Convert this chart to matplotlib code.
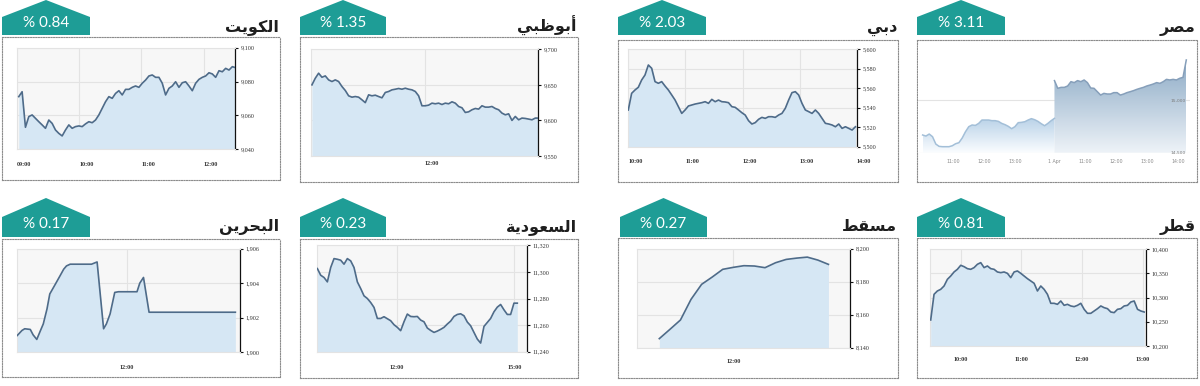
import numpy as np
import matplotlib
matplotlib.use("Agg")
import matplotlib.pyplot as plt
from matplotlib.patches import Polygon
from matplotlib.colors import LinearSegmentedColormap
from matplotlib.ticker import FuncFormatter

plt.rcParams['font.family'] = ['DejaVu Sans']

# ---------------------------------------------------------------- data
titles = ["الكويت", "أبوظبي", "دبي", "مصر", "البحرين", "السعودية", "مسقط", "قطر"]
changes = ["0.84", "1.35", "2.03", "3.11", "0.17", "0.23", "0.27", "0.81"]

kuwait_t0, kuwait_dt = "09:02", 3.21
kuwait_vals = [9071.1, 9074.0, 9053.0, 9059.3, 9060.3, 9058.3, 9056.3, 9054.4, 9052.4, 9057.3,
               9055.3, 9051.4, 9049.4, 9047.9, 9051.4, 9054.4, 9052.4, 9053.4, 9053.8, 9053.4,
               9055.0, 9056.3, 9055.7, 9057.3, 9060.3, 9064.2, 9068.1, 9071.1, 9070.1, 9073.0,
               9074.6, 9072.1, 9075.4, 9075.4, 9076.6, 9077.4, 9076.6, 9079.0, 9080.9, 9083.3,
               9083.9, 9082.5, 9082.5, 9079.0, 9072.1, 9076.0, 9077.4, 9079.9, 9076.6, 9079.3,
               9079.9, 9077.4, 9074.6, 9079.0, 9081.3, 9082.5, 9083.3, 9085.2, 9084.5, 9082.5,
               9086.4, 9085.8, 9087.8, 9086.8, 9088.8, 9088.2]
kuwait_yticks = [9040, 9060, 9080, 9100]
kuwait_xticks = ["09:00", "10:00", "11:00", "12:00"]

abudhabi_t0, abudhabi_dt = "10:01", 3.52
abudhabi_vals = [9650.0, 9659.3, 9666.4, 9660.7, 9662.6, 9657.0, 9654.7, 9657.0, 9654.7, 9647.7,
                 9642.1, 9634.6, 9632.7, 9633.6, 9632.7, 9629.0, 9625.0, 9636.0, 9634.6, 9635.5,
                 9633.6, 9631.8, 9639.3, 9640.7, 9643.0, 9643.9, 9644.9, 9643.9, 9645.3, 9643.9,
                 9643.0, 9640.7, 9634.6, 9620.6, 9620.6, 9621.5, 9624.3, 9623.4, 9624.3, 9622.4,
                 9624.3, 9623.4, 9626.2, 9624.3, 9619.6, 9617.8, 9611.2, 9612.1, 9615.0, 9616.8,
                 9615.9, 9620.6, 9618.7, 9618.7, 9619.6, 9616.8, 9615.0, 9610.3, 9607.9, 9609.3,
                 9600.0, 9605.6, 9600.9, 9603.3, 9602.8, 9601.9, 9600.9, 9603.3, 9603.3]
abudhabi_yticks = [9550, 9600, 9650, 9700]
abudhabi_xticks = ["12:00"]

dubai_t0, dubai_dt = "10:00", 3.51
dubai_vals = [5537.7, 5554.8, 5558.2, 5561.0, 5568.5, 5573.6, 5583.9, 5580.5, 5566.8, 5565.1,
              5566.8, 5562.3, 5558.2, 5553.1, 5547.9, 5541.1, 5534.2, 5537.7, 5541.8, 5542.8,
              5543.8, 5544.5, 5545.2, 5546.2, 5544.5, 5548.6, 5546.2, 5547.9, 5546.2, 5545.9,
              5545.2, 5541.1, 5540.4, 5537.7, 5534.9, 5532.5, 5526.7, 5523.3, 5524.7, 5528.1,
              5530.1, 5529.1, 5530.8, 5530.8, 5530.1, 5532.5, 5534.2, 5539.4, 5547.9, 5555.5,
              5556.5, 5553.1, 5544.5, 5537.7, 5536.0, 5534.2, 5537.7, 5534.2, 5529.1, 5524.0,
              5523.3, 5522.3, 5520.5, 5523.3, 5518.8, 5520.5, 5518.8, 5517.1, 5520.5]
dubai_yticks = [5500, 5520, 5540, 5560, 5580, 5600]
dubai_xticks = ["10:00", "11:00", "12:00", "13:00", "14:00"]

egypt_day1 = [14668, 14658, 14677, 14652, 14582, 14560, 14557, 14557, 14557, 14566,
              14585, 14595, 14639, 14699, 14747, 14763, 14759, 14778, 14810, 14810,
              14810, 14804, 14804, 14797, 14778, 14766, 14750, 14728, 14747, 14785,
              14788, 14794, 14810, 14823, 14813, 14797, 14775, 14756, 14778, 14804, 14826]
egypt_day2 = [15184, 15111, 15120, 15120, 15133, 15174, 15165, 15184, 15174, 15190,
              15165, 15114, 15111, 15079, 15047, 15063, 15057, 15057, 15070, 15070,
              15047, 15057, 15070, 15079, 15089, 15101, 15111, 15120, 15133, 15142,
              15152, 15165, 15158, 15174, 15196, 15190, 15196, 15190, 15206, 15215, 15380]
egypt_open, egypt_close = "10:00", "14:16"
egypt_yticks = [14500, 15000]
egypt_ytick_labels = ["14,500", "15,000"]
egypt_xtick_day = [1, 1, 1, 2, 2, 2, 2, 2]
egypt_xtick_clock = ["11:00", "12:00", "13:00", "10:00", "11:00", "12:00", "13:00", "14:00"]
egypt_xtick_labels = ["11:00", "12:00", "13:00", "1 Apr", "11:00", "12:00", "13:00", "14:00"]

bahrain_times = ["10:02", "10:07", "10:10", "10:16", "10:19", "10:23", "10:27", "10:30", "10:34",
                 "10:37", "10:43", "10:48", "10:52", "10:55", "10:59", "11:22", "11:28", "11:35",
                 "11:38", "11:42", "11:47", "11:51", "12:11", "12:14", "12:18", "12:24", "13:57"]
bahrain_vals = [1900.96, 1901.25, 1901.35, 1901.31, 1901.00, 1900.73, 1901.25, 1901.63, 1902.50,
                1903.37, 1903.94, 1904.42, 1904.81, 1905.00, 1905.10, 1905.10, 1905.23, 1901.35,
                1901.63, 1902.21, 1903.46, 1903.50, 1903.50, 1904.00, 1904.33, 1902.31, 1902.31]
bahrain_yticks = [1900, 1902, 1904, 1906]
bahrain_xticks = ["12:00"]

saudi_t0, saudi_dt = "09:58.6", 5.1
saudi_vals = [11302.5, 11297.5, 11295.8, 11292.5, 11303.3, 11310.0, 11309.5, 11308.8, 11305.8, 11310.0,
              11308.3, 11303.3, 11292.5, 11287.5, 11282.0, 11280.0, 11277.0, 11273.3, 11265.0, 11265.0,
              11266.3, 11264.8, 11263.3, 11260.3, 11258.3, 11255.8, 11262.5, 11268.3, 11266.5, 11266.3,
              11266.5, 11263.8, 11262.5, 11257.8, 11256.0, 11254.5, 11255.5, 11256.8, 11258.3, 11260.8,
              11263.0, 11266.5, 11268.0, 11268.5, 11267.0, 11262.3, 11259.5, 11254.5, 11249.5, 11246.5,
              11259.0, 11262.0, 11265.0, 11270.0, 11273.5, 11275.5, 11271.5, 11268.0, 11268.0, 11276.5,
              11276.5]
saudi_yticks = [11240, 11260, 11280, 11300, 11320]
saudi_xticks = ["12:00", "15:00"]

muscat_t0, muscat_dt = "10:50", 10
muscat_vals = [8145.5, 8151.1, 8156.8, 8169.3, 8178.4, 8182.8, 8187.5, 8188.7, 8189.7,
               8189.5, 8188.5, 8191.5, 8193.5, 8194.3, 8194.9, 8193.1, 8190.5]
muscat_yticks = [8140, 8160, 8180, 8200]
muscat_xticks = ["12:00"]

qatar_t0, qatar_dt = "09:30.3", 3.3
qatar_vals = [10253.8, 10306.9, 10313.8, 10317.2, 10324.1, 10337.9, 10344.8, 10353.1, 10358.6, 10366.9,
              10364.1, 10360.0, 10358.6, 10362.1, 10369.0, 10372.4, 10362.1, 10365.5, 10360.0, 10358.6,
              10353.1, 10351.7, 10353.1, 10350.3, 10341.4, 10353.1, 10355.2, 10350.3, 10344.8, 10339.3,
              10334.5, 10329.7, 10313.8, 10324.1, 10317.2, 10306.9, 10288.3, 10288.3, 10286.2, 10293.1,
              10284.1, 10286.2, 10282.8, 10281.4, 10284.1, 10288.3, 10275.9, 10267.6, 10267.6, 10272.4,
              10277.2, 10282.8, 10279.3, 10277.2, 10270.3, 10269.0, 10275.9, 10277.2, 10282.8, 10284.1,
              10291.0, 10293.1, 10275.9, 10272.4, 10270.3]
qatar_yticks = [10200, 10250, 10300, 10350, 10400]
qatar_xticks = ["10:00", "11:00", "12:00", "13:00"]

# ---------------------------------------------------------------- style
W, H = 1200, 386
TEAL = "#1e9d96"
LINE = "#4e6b89"
FILL = "#d6e7f4"
PLOTBG = "#f7f7f7"
GRID = "#e3e3e3"
TICKFONT = dict(family="Liberation Serif", size=4.4)


def hm(s):
    h, m = s.split(":")
    return int(h) * 60 + float(m)


def series_times(t0, dt, n):
    return hm(t0) + dt * np.arange(n)


# minimal Arabic contextual shaping (presentation forms, visual order)
FORMS = {
    'ا': ('\uFE8D', '\uFE8E', None, None), 'أ': ('\uFE83', '\uFE84', None, None),
    'ب': ('\uFE8F', '\uFE90', '\uFE91', '\uFE92'), 'ت': ('\uFE95', '\uFE96', '\uFE97', '\uFE98'),
    'ة': ('\uFE93', '\uFE94', None, None), 'ح': ('\uFEA1', '\uFEA2', '\uFEA3', '\uFEA4'),
    'د': ('\uFEA9', '\uFEAA', None, None), 'ر': ('\uFEAD', '\uFEAE', None, None),
    'س': ('\uFEB1', '\uFEB2', '\uFEB3', '\uFEB4'), 'ص': ('\uFEB9', '\uFEBA', '\uFEBB', '\uFEBC'),
    'ط': ('\uFEC1', '\uFEC2', '\uFEC3', '\uFEC4'), 'ظ': ('\uFEC5', '\uFEC6', '\uFEC7', '\uFEC8'),
    'ع': ('\uFEC9', '\uFECA', '\uFECB', '\uFECC'), 'ق': ('\uFED5', '\uFED6', '\uFED7', '\uFED8'),
    'ك': ('\uFED9', '\uFEDA', '\uFEDB', '\uFEDC'), 'ل': ('\uFEDD', '\uFEDE', '\uFEDF', '\uFEE0'),
    'م': ('\uFEE1', '\uFEE2', '\uFEE3', '\uFEE4'), 'ن': ('\uFEE5', '\uFEE6', '\uFEE7', '\uFEE8'),
    'و': ('\uFEED', '\uFEEE', None, None), 'ي': ('\uFEF1', '\uFEF2', '\uFEF3', '\uFEF4'),
}


def shape(word):
    out = []
    n = len(word)
    for i, ch in enumerate(word):
        f = FORMS[ch]
        prev_j = i > 0 and FORMS[word[i - 1]][2] is not None
        next_j = i < n - 1 and f[2] is not None
        if prev_j and next_j:
            out.append(f[3])
        elif prev_j:
            out.append(f[1])
        elif next_j:
            out.append(f[2])
        else:
            out.append(f[0])
    return "".join(reversed(out))


def fbox(l, t, r, b):
    return [l / W, 1 - b / H, (r - l) / W, (b - t) / H]


fig = plt.figure(figsize=(12, 3.86), dpi=100)
fig.patch.set_facecolor("white")

# panel frame layout: box, badge x-range, title right edge, row
frames = [
    ((2, 37, 280, 180), (2, 90), 279, 0),
    ((300, 37, 578, 182), (300, 386), 577, 0),
    ((618, 40, 898, 182), (618, 706), 897, 0),
    ((917, 40, 1197, 182), (917, 1005), 1195, 0),
    ((2, 239, 280, 377), (2, 90), 279, 1),
    ((300, 239, 578, 378), (300, 386), 577, 1),
    ((618, 238, 898, 378), (620, 707), 897, 1),
    ((917, 238, 1197, 378), (917, 1005), 1196, 1),
]
badge_rows = [(0, 17, 35, 23, 32), (198, 217, 237, 224, 231)]

for (box, (bl, br), tr, row), title, chg in zip(frames, titles, changes):
    fa = fig.add_axes(fbox(*box), zorder=0)
    fa.set_xticks([]); fa.set_yticks([])
    fa.set_facecolor("white")
    for sp in fa.spines.values():
        sp.set_linestyle((0, (1, 1.3)))
        sp.set_color("#8c8c8c")
        sp.set_linewidth(0.8)
    peak, sh, bot, tcy, base = badge_rows[row]
    pts = [(bl, bot), (bl, sh), ((bl + br) / 2, peak), (br, sh), (br, bot)]
    fig.add_artist(Polygon([(x / W, 1 - y / H) for x, y in pts], closed=True,
                           transform=fig.transFigure, facecolor=TEAL, edgecolor="none", zorder=5))
    fig.text((bl + br) / 2 / W, 1 - tcy / H, f"% {chg}", ha="center", va="center",
             color="white", fontsize=11, family="Lato", zorder=6)
    fig.text(tr / W, 1 - base / H, shape(title), ha="right", va="baseline",
             fontsize=11.5, fontweight="bold", color="#1e1e1e", zorder=6)

fmt = FuncFormatter(lambda v, p: f"{v:,.0f}")


def make_axes(px, xlim, ylim, yticks, xt_pos, xt_lab, xalign, xpad):
    ax = fig.add_axes(fbox(*px), zorder=2)
    ax.set_facecolor(PLOTBG)
    ax.set_xlim(*xlim); ax.set_ylim(*ylim)
    for s in ("left", "top", "bottom"):
        ax.spines[s].set_color(GRID); ax.spines[s].set_linewidth(0.8)
    ax.spines["right"].set_color("#111111"); ax.spines["right"].set_linewidth(0.9)
    ax.yaxis.tick_right()
    ax.set_yticks(yticks)
    ax.yaxis.set_major_formatter(fmt)
    ax.tick_params(axis="y", direction="out", length=2.5, width=0.8, color="#111111",
                   pad=1.5, labelsize=TICKFONT["size"], labelcolor="#333333")
    ax.set_xticks(xt_pos)
    ax.set_xticklabels(xt_lab)
    ax.tick_params(axis="x", length=0, pad=xpad, labelsize=TICKFONT["size"], labelcolor="#333333")
    for lab in ax.get_xticklabels() + ax.get_yticklabels():
        lab.set_family(TICKFONT["family"])
    for lab in ax.get_xticklabels():
        lab.set_ha(xalign)
        lab.set_fontweight("bold")
    ax.grid(True, color=GRID, lw=0.8)
    ax.set_axisbelow(True)
    return ax


def draw_series(ax, t, v, ylim):
    ax.fill_between(t, v, ylim[0], color=FILL, lw=0, zorder=2)
    ax.plot(t, v, color=LINE, lw=1.2, zorder=3, solid_joinstyle="round")


panels = [
    (kuwait_t0, kuwait_dt, kuwait_vals, kuwait_yticks, kuwait_xticks,
     (16.7, 47.7, 235, 149.3), (540, 750), (9040, 9100), "left", 9.5),
    (abudhabi_t0, abudhabi_dt, abudhabi_vals, abudhabi_yticks, abudhabi_xticks,
     (311, 49.3, 538.3, 156), (600, 840), (9550, 9700), "left", 3.5),
    (dubai_t0, dubai_dt, dubai_vals, dubai_yticks, dubai_xticks,
     (628.3, 49.3, 856.7, 146.7), (600, 840), (5500, 5600), "left", 9.0),
    (saudi_t0, saudi_dt, saudi_vals, saudi_yticks, saudi_xticks,
     (317.3, 245.3, 526.7, 351.7), (598.5, 919), (11240, 11320), "center", 9.7),
    (muscat_t0, muscat_dt, muscat_vals, muscat_yticks, muscat_xticks,
     (636.7, 248.7, 850, 347.7), (628.6, 830.4), (8140, 8200), "center", 8.3),
    (qatar_t0, qatar_dt, qatar_vals, qatar_yticks, qatar_xticks,
     (930, 249.3, 1146, 346), (569.6, 783.3), (10200, 10400), "center", 7.8),
]

for t0, dt, vals, yt, xt, px, xlim, ylim, al, pad in panels:
    ax = make_axes(px, xlim, ylim, yt, [hm(s) for s in xt], xt, al, pad)
    draw_series(ax, series_times(t0, dt, len(vals)), vals, ylim)

# Bahrain (irregular timestamps)
ax = make_axes((17.3, 248.7, 240, 352), (602, 842), (1900, 1906), bahrain_yticks,
               [hm(s) for s in bahrain_xticks], bahrain_xticks, "center", 9.5)
draw_series(ax, np.array([hm(s) for s in bahrain_times]), bahrain_vals, (1900, 1906))

# Egypt: two sessions joined on an ordinal time axis, gradient area fills
sess = (hm(egypt_close) - hm(egypt_open)) / 60.0
ax = fig.add_axes(fbox(918, 45, 1190, 152.7), zorder=2)
ax.set_facecolor("white")
for s in ax.spines.values():
    s.set_visible(False)
ylim_e = (14500, 15522)
x1 = np.linspace(0, sess, len(egypt_day1))
x2 = np.linspace(sess, 2 * sess, len(egypt_day2))


def grad_fill(ax, x, y, base, top_c, bot_c, top_v):
    poly = ax.fill_between(x, y, base, facecolor="none", lw=0)
    cmap = LinearSegmentedColormap.from_list("g", [bot_c, top_c])
    grad = np.linspace(1, 0, 256).reshape(-1, 1)
    im = ax.imshow(grad, aspect="auto", cmap=cmap, extent=[x[0], x[-1], base, top_v],
                   origin="upper", zorder=1, interpolation="bilinear")
    im.set_clip_path(poly.get_paths()[0], transform=ax.transData)


for yv in egypt_yticks:
    ax.axhline(yv, color=GRID, lw=0.8, zorder=0.5)
grad_fill(ax, x1, np.array(egypt_day1), ylim_e[0], "#b9d2e8", "#fbfdff", max(egypt_day1))
grad_fill(ax, x2, np.array(egypt_day2), ylim_e[0], "#8dabc6", "#eef3f8", max(egypt_day2))
ax.plot(x1, egypt_day1, color="#a3bfd8", lw=1.1, zorder=3)
ax.plot(x2, egypt_day2, color="#869fba", lw=1.1, zorder=3)
ax.set_xlim(-0.15, 2 * sess + 0.12)
ax.set_ylim(*ylim_e)
ax.set_yticks(egypt_yticks)
ax.set_yticklabels(egypt_ytick_labels)
ax.yaxis.tick_right()
ax.tick_params(axis="y", length=0, pad=-14, labelsize=3.2, labelcolor="#7a7a7a")
egx = [(d - 1) * sess + (hm(c) - hm(egypt_open)) / 60.0 for d, c in zip(egypt_xtick_day, egypt_xtick_clock)]
ax.set_xticks(egx)
ax.set_xticklabels(egypt_xtick_labels)
ax.tick_params(axis="x", length=0, pad=4.7, labelsize=3.4, labelcolor="#8a8a8a")
ax.grid(False)
ax.set_axisbelow(False)

fig.savefig("out.png", dpi=100, facecolor="white")
